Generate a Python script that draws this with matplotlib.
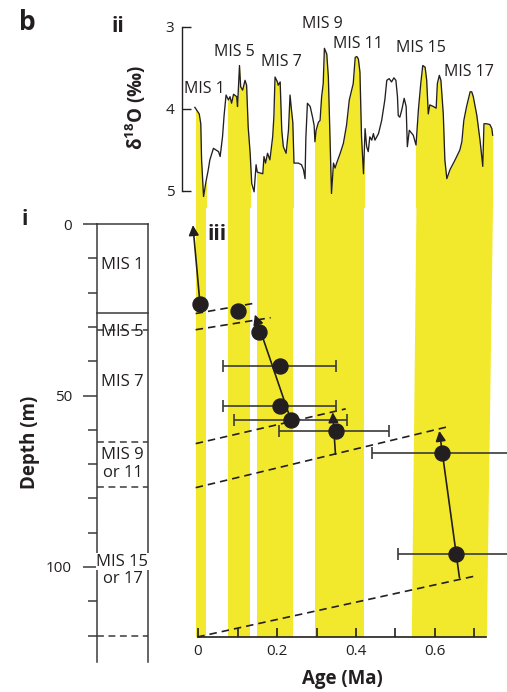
import matplotlib
matplotlib.use("Agg")
import matplotlib.pyplot as plt
import numpy as np
from matplotlib.patches import Rectangle

plt.rcParams["font.family"] = ["Open Sans", "DejaVu Sans"]
plt.rcParams["mathtext.fontset"] = "custom"
plt.rcParams["mathtext.rm"] = "Open Sans"
plt.rcParams["mathtext.bf"] = "Open Sans:bold"

# ---- (ii) benthic d18O record ----
d18o_age = [
    -0.008, 0.003, 0.007, 0.009, 0.014, 0.020, 0.026, 0.030, 0.039, 0.052,
    0.056, 0.062, 0.066, 0.071, 0.077, 0.081, 0.085, 0.090, 0.098, 0.100,
    0.105, 0.108, 0.113, 0.119, 0.123, 0.127, 0.132, 0.136, 0.142, 0.147,
    0.150, 0.164, 0.167, 0.171, 0.176, 0.182, 0.189, 0.192, 0.195, 0.201,
    0.203, 0.208, 0.212, 0.216, 0.223, 0.229, 0.233, 0.237, 0.240, 0.243,
    0.254, 0.262, 0.267, 0.271, 0.273, 0.277, 0.284, 0.290, 0.294, 0.296,
    0.299, 0.305, 0.309, 0.313, 0.317, 0.320, 0.326, 0.330, 0.334, 0.338,
    0.343, 0.347, 0.351, 0.360, 0.368, 0.376, 0.383, 0.389, 0.393, 0.398,
    0.402, 0.406, 0.410, 0.414, 0.419, 0.423, 0.427, 0.431, 0.435, 0.440,
    0.444, 0.448, 0.457, 0.465, 0.473, 0.478, 0.484, 0.490, 0.496, 0.501,
    0.505, 0.507, 0.511, 0.516, 0.522, 0.527, 0.530, 0.535, 0.545, 0.552,
    0.558, 0.564, 0.569, 0.575, 0.579, 0.583, 0.587, 0.596, 0.603, 0.606,
    0.611, 0.615, 0.621, 0.625, 0.630, 0.638, 0.651, 0.663, 0.668, 0.673,
    0.680, 0.689, 0.693, 0.697, 0.706, 0.714, 0.721, 0.724, 0.731, 0.739,
    0.744, 0.746,
]
d18o_val = [
    3.98, 4.06, 4.18, 4.62, 5.07, 4.89, 4.74, 4.62, 4.48, 4.52,
    4.58, 4.34, 4.08, 3.83, 3.89, 3.85, 3.93, 3.82, 3.85, 3.97,
    3.47, 3.73, 3.77, 3.65, 3.71, 4.22, 4.54, 4.91, 5.01, 4.68,
    4.77, 4.79, 4.58, 4.66, 4.54, 4.62, 4.34, 4.10, 3.61, 3.67,
    3.71, 3.67, 4.26, 4.46, 4.54, 4.26, 3.83, 4.03, 4.16, 4.66,
    4.66, 4.68, 4.74, 4.85, 4.36, 3.93, 3.97, 4.10, 4.20, 4.40,
    4.26, 4.16, 4.14, 3.85, 3.69, 3.26, 3.33, 3.61, 4.34, 5.03,
    4.66, 4.72, 4.66, 4.54, 4.42, 4.20, 3.89, 3.77, 3.69, 3.37,
    3.36, 3.39, 3.55, 4.34, 4.79, 4.24, 4.46, 4.52, 4.34, 4.38,
    4.30, 4.38, 4.30, 4.14, 3.89, 3.65, 3.63, 3.67, 3.62, 3.65,
    3.85, 4.08, 4.10, 4.01, 3.87, 3.97, 4.46, 4.26, 4.32, 4.44,
    4.01, 3.69, 3.47, 3.49, 3.65, 4.06, 3.95, 3.97, 3.99, 3.69,
    3.59, 3.65, 4.06, 4.62, 4.85, 4.74, 4.62, 4.50, 4.40, 4.14,
    3.97, 3.79, 3.79, 3.85, 4.08, 4.38, 4.70, 4.18, 4.18, 4.19,
    4.24, 4.32,
]

# interglacial (yellow) bands in Ma; the last one leans a little
band_left_top = [-0.005, 0.076, 0.149, 0.296, 0.552]
band_right_top = [0.020, 0.132, 0.241, 0.420, 0.746]
band_left_bot = [-0.005, 0.076, 0.149, 0.296, 0.540]
band_right_bot = [0.020, 0.132, 0.241, 0.420, 0.730]

mis_labels = ["MIS 1", "MIS 5", "MIS 7", "MIS 9", "MIS 11", "MIS 15", "MIS 17"]
mis_label_age = [0.015, 0.091, 0.210, 0.314, 0.405, 0.565, 0.686]
mis_label_d18o = [3.76, 3.30, 3.43, 2.96, 3.21, 3.26, 3.55]

# ---- (iii) dated samples ----
sample_age = [0.005, 0.100, 0.155, 0.208, 0.208, 0.235, 0.349, 0.619, 0.653]
sample_depth = [23.1, 25.3, 31.5, 41.1, 52.9, 56.9, 60.1, 66.6, 96.0]
sample_lo = [None, None, None, 0.063, 0.063, 0.092, 0.206, 0.440, 0.506]
sample_hi = [None, None, None, 0.349, 0.349, 0.378, 0.483, 0.850, 0.850]

# trend arrows (from -> to)
trend_from_age = [0.005, 0.235, 0.348, 0.662]
trend_from_depth = [23.1, 56.9, 66.9, 102.8]
trend_to_age = [-0.013, 0.144, 0.341, 0.611]
trend_to_depth = [0.3, 26.3, 54.7, 60.1]

# dashed correlation lines
corr_age_left = [-0.006, -0.006, -0.006, -0.006, -0.002]
corr_depth_left = [26.0, 30.7, 63.8, 76.6, 120.0]
corr_age_right = [0.138, 0.184, 0.374, 0.636, 0.697]
corr_depth_right = [23.1, 27.2, 53.7, 58.8, 102.4]

# ---- (i) stratigraphic column ----
unit_labels = ["MIS 1", "MIS 5", "MIS 7", "MIS 9\nor 11", "MIS 15\nor 17"]
unit_label_depth = [12.0, 31.5, 46.0, 70.0, 101.0]
boundary_depth = [26.0, 31.0, 63.7, 76.6, 120.0]
boundary_solid = [True, False, False, False, False]

YEL = "#f3e92c"
K = "#231f20"
GREY = "#3a3a3a"
DASH = (0, (4.5, 3))

W, H = 507, 692
fig = plt.figure(figsize=(W / 100, H / 100), dpi=100)


def box(x0, y0, x1, y1):
    # pixel box (origin top-left) -> figure fraction rect
    return [x0 / W, 1 - y1 / H, (x1 - x0) / W, (y1 - y0) / H]


ax_top = fig.add_axes(box(192.1, 27, 488.3, 200))
ax = fig.add_axes(box(192.1, 200, 488.3, 637))
ax_col = fig.add_axes(box(97, 200, 148, 662))
for a in (ax_top, ax, ax_col):
    a.set_facecolor("none")

# ---------- top panel (ii) ----------
ax_top.set_xlim(-0.015, 0.735)
ax_top.set_ylim(5.11, 3.0)
for i in range(len(band_left_top)):
    f = ax_top.fill_between(d18o_age, d18o_val, 5.2, color=YEL, lw=0, zorder=0)
    f.set_clip_path(Rectangle((band_left_top[i], 2.5),
                              band_right_top[i] - band_left_top[i], 3.0,
                              transform=ax_top.transData))
ax_top.plot(d18o_age, d18o_val, color=K, lw=0.95, zorder=2, clip_on=False)
for lab, x, y in zip(mis_labels, mis_label_age, mis_label_d18o):
    ax_top.text(x, y, lab, ha="center", va="center", fontsize=11.5, color=K)

for s in ["top", "right", "bottom"]:
    ax_top.spines[s].set_visible(False)
ax_top.spines["left"].set_position(("outward", 7.3))
ax_top.spines["left"].set_bounds(3, 5)
ax_top.spines["left"].set_color(K)
ax_top.spines["left"].set_linewidth(1.0)
ax_top.set_xticks([])
ax_top.set_yticks([3, 4, 5])
ax_top.tick_params(axis="y", direction="in", length=6.5, width=1.0,
                   labelsize=11, pad=5.5, colors=K)

# ---------- lower panel (iii) ----------
ax.set_xlim(-0.015, 0.735)
ax.set_ylim(120, -7.0)
# bands start a touch above the panel so they join the top panel seamlessly
for i in range(len(band_left_top)):
    ax.fill_betweenx([-8.0, 120], [band_left_top[i], band_left_bot[i]],
                     [band_right_top[i], band_right_bot[i]],
                     color=YEL, lw=0, zorder=0, clip_on=False)

for i in range(len(corr_age_left)):
    ax.plot([corr_age_left[i], corr_age_right[i]],
            [corr_depth_left[i], corr_depth_right[i]],
            color=K, lw=1.2, ls=DASH, zorder=2, clip_on=False)

for a, d, lo, hi in zip(sample_age, sample_depth, sample_lo, sample_hi):
    if lo is None:
        continue
    eb = ax.errorbar(a, d, xerr=[[a - lo], [hi - a]], fmt="none", ecolor=GREY,
                     elinewidth=1.2, capsize=4.5, capthick=1.2, zorder=3)
    for art in eb.get_children():
        art.set_clip_on(False)

for x0, y0, x1, y1 in zip(trend_from_age, trend_from_depth, trend_to_age, trend_to_depth):
    ax.annotate("", xy=(x1, y1), xytext=(x0, y0), annotation_clip=False,
                arrowprops=dict(arrowstyle="-|>", color=K, lw=1.2,
                                mutation_scale=15, shrinkA=0, shrinkB=0),
                zorder=4)

ax.plot(sample_age, sample_depth, "o", ms=10.8, color=K, zorder=5, clip_on=False)

for s in ["top", "right", "left"]:
    ax.spines[s].set_visible(False)
ax.spines["bottom"].set_bounds(0, 0.73)
ax.spines["bottom"].set_linewidth(1.2)
ax.spines["bottom"].set_color(K)
ax.set_yticks([])
ax.set_xticks(np.arange(0, 0.71, 0.1))
ax.set_xticklabels(["0", "", "0.2", "", "0.4", "", "0.6", ""])
ax.tick_params(axis="x", direction="in", length=6.5, width=1.2,
               labelsize=11, pad=5, colors=K)

# ---------- stratigraphic column (i) ----------
ax_col.set_xlim(0, 1)
ax_col.set_ylim(127.7, -7.0)
for s in ["top", "bottom"]:
    ax_col.spines[s].set_visible(False)
for s in ["left", "right"]:
    ax_col.spines[s].set_bounds(0, 127.7)
    ax_col.spines[s].set_color(GREY)
    ax_col.spines[s].set_linewidth(1.1)
ax_col.set_xticks([])
ax_col.set_yticks([0, 50, 100])
ax_col.set_yticks([10, 20, 30, 40, 60, 70, 80, 90, 110, 120], minor=True)
ax_col.tick_params(axis="y", which="major", direction="out", length=10,
                   width=1.1, labelsize=11, pad=8, colors=GREY, labelcolor=K)
ax_col.tick_params(axis="y", which="minor", direction="out", length=6.5,
                   width=1.1, colors=GREY)

ax_col.plot([0, 1], [0, 0], color=GREY, lw=1.1, clip_on=False)
for d, solid in zip(boundary_depth, boundary_solid):
    ax_col.plot([0, 1], [d, d], color=GREY, lw=1.1,
                ls="-" if solid else DASH, clip_on=False)

for lab, d in zip(unit_labels, unit_label_depth):
    lines = lab.split("\n")
    if len(lines) == 1:
        ax_col.text(0.5, d, lab, ha="center", va="center", fontsize=12, color=K)
    else:
        ax_col.text(0.5, d - 2.6, lines[0], ha="center", va="center", fontsize=12,
                    color=K, zorder=3,
                    bbox=dict(boxstyle="square,pad=0.05", fc="white", ec="none"))
        ax_col.text(0.5, d + 2.6, lines[1], ha="center", va="center", fontsize=12,
                    color=K)

# ---------- labels ----------
fig.text(30 / W, 1 - 442 / H, "Depth (m)", rotation=90, ha="center", va="center",
         fontsize=13.5, fontweight="bold", color=K)
fig.text(136 / W, 1 - 108 / H, r"δ$^{\mathbf{18}}$O (‰)", rotation=90, ha="center",
         va="center", fontsize=13.5, fontweight="bold", color=K)
fig.text(342 / W, 1 - 679 / H, "Age (Ma)", ha="center", va="center",
         fontsize=13.5, fontweight="bold", color=K)
fig.text(27 / W, 1 - 22 / H, "b", ha="center", va="center", fontsize=19,
         fontweight="bold", color=K)
fig.text(118 / W, 1 - 27 / H, "ii", ha="center", va="center", fontsize=15,
         fontweight="bold", color=K)
fig.text(25 / W, 1 - 219 / H, "i", ha="center", va="center", fontsize=15,
         fontweight="bold", color=K)
fig.text(217 / W, 1 - 234 / H, "iii", ha="center", va="center", fontsize=15,
         fontweight="bold", color=K)

fig.savefig("out.png", dpi=100)
